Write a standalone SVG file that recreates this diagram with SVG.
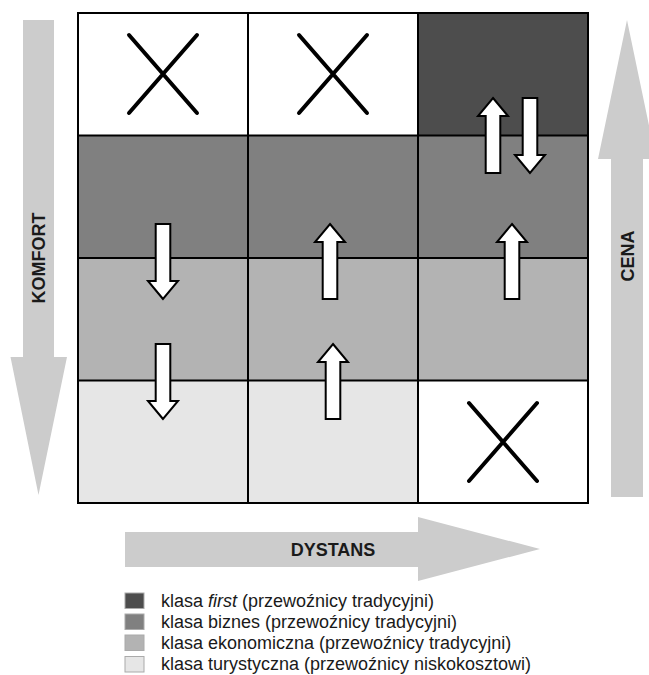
<svg xmlns="http://www.w3.org/2000/svg" xmlns:xlink="http://www.w3.org/1999/xlink" width="649" height="675" viewBox="0 0 649 675">
<style>
.axis{fill:#cccccc}
.axlbl{font-family:"Liberation Sans",Arial,sans-serif;font-weight:bold;font-size:18px;fill:#1a1a1a}
.c1{fill:#4d4d4d}.c2{fill:#808080}.c3{fill:#b3b3b3}.c4{fill:#e6e6e6}.cw{fill:#ffffff}
.grid{stroke:#000;stroke-width:2;fill:none}
.x{stroke:#000;stroke-width:4;stroke-linecap:round}
.ba{fill:#fff;stroke:#000;stroke-width:2;stroke-linejoin:miter}
.leg{font-family:"Liberation Sans",Arial,sans-serif;font-size:18px;fill:#1a1a1a}
.ls{stroke:#aaaaaa;stroke-width:1}
</style>
<defs>
<path id="up" d="M0,0 L15,18 L7.3,18 L7.3,75 L-7.3,75 L-7.3,18 L-15,18 Z"/>
</defs>
<rect width="649" height="675" fill="#fff"/>
<g id="axis-komfort">
<path class="axis" d="M23,20 H54 V357 H67 L38.5,495 L10.5,357 H23 Z"/>
<text class="axlbl" transform="translate(45,258) rotate(-90)" text-anchor="middle" font-size="19.5">KOMFORT</text>
</g>
<g id="axis-cena">
<path class="axis" d="M611,497 V159 H598 L627,20 L656,159 H643 V497 Z"/>
<text class="axlbl" transform="translate(634,256) rotate(-90)" text-anchor="middle" font-size="19.5">CENA</text>
</g>
<g id="axis-dystans">
<path class="axis" d="M125,532 H418 V517 L540,549 L418,581 V567 H125 Z"/>
<text class="axlbl" x="333" y="556" text-anchor="middle">DYSTANS</text>
</g>
<g id="grid">
<rect class="cw" x="78" y="13" width="170" height="122.5"/>
<rect class="cw" x="248" y="13" width="170" height="122.5"/>
<rect class="c1" x="418" y="13" width="170" height="122.5"/>
<rect class="c2" x="78" y="135.5" width="510" height="122.5"/>
<rect class="c3" x="78" y="258" width="510" height="122.5"/>
<rect class="c4" x="78" y="380.5" width="340" height="122.5"/>
<rect class="cw" x="418" y="380.5" width="170" height="122.5"/>
<path class="grid" d="M248,13 V503 M418,13 V503 M78,135.5 H588 M78,258 H588 M78,380.5 H588"/>
<rect class="grid" x="78" y="13" width="510" height="490" stroke-width="2.5"/>
</g>
<g id="crosses">
<path class="x" d="M129,35 L197,113 M197,35 L129,113"/>
<path class="x" d="M299,35 L367,113 M367,35 L299,113"/>
<path class="x" d="M469,403 L537,481 M537,403 L469,481"/>
</g>
<g id="connectors">
<use xlink:href="#up" class="ba" transform="translate(163,299) rotate(180)"/>
<use xlink:href="#up" class="ba" transform="translate(163,419) rotate(180)"/>
<use xlink:href="#up" class="ba" transform="translate(330,224)"/>
<use xlink:href="#up" class="ba" transform="translate(333,344)"/>
<use xlink:href="#up" class="ba" transform="translate(512,224)"/>
<use xlink:href="#up" class="ba" transform="translate(493,98)"/>
<use xlink:href="#up" class="ba" transform="translate(530,173) rotate(180)"/>
</g>
<g id="legend">
<rect class="c1 ls" x="125" y="593" width="19" height="15.5"/>
<rect class="c2 ls" x="125" y="614" width="19" height="15.5"/>
<rect class="c3 ls" x="125" y="635" width="19" height="15.5"/>
<rect class="c4 ls" x="125" y="656.5" width="19" height="15.5"/>
<text class="leg" x="161" y="606.5">klasa <tspan font-style="italic">first</tspan> (przewoźnicy tradycyjni)</text>
<text class="leg" x="161" y="627.5">klasa biznes (przewoźnicy tradycyjni)</text>
<text class="leg" x="161" y="648.5">klasa ekonomiczna (przewoźnicy tradycyjni)</text>
<text class="leg" x="161" y="670">klasa turystyczna (przewoźnicy niskokosztowi)</text>
</g>
</svg>
